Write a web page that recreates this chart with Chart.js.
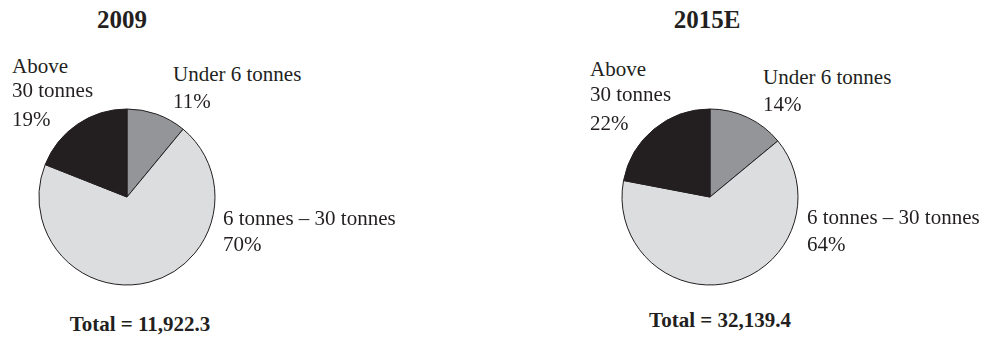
<!DOCTYPE html>
<html>
<head>
<meta charset="utf-8">
<script src="https://cdn.jsdelivr.net/npm/chart.js@4.4.1/dist/chart.umd.min.js"></script>
<style>
  body { margin: 0; background: #fff; }
  #wrap { position: relative; width: 985px; height: 340px; overflow: hidden; background: #fff; }
  .pie { position: absolute; width: 200px; height: 200px; }
  .txt { position: absolute; font-family: "Liberation Serif", "Times New Roman", serif; color: #231f20; white-space: nowrap; }
</style>
</head>
<body>
<div id="wrap">
  <div class="pie" style="left:27px; top:97px;"><canvas id="pie2009"></canvas></div>
  <div class="pie" style="left:610px; top:97px;"><canvas id="pie2015"></canvas></div>
</div>
<script>
const categories = ["Under 6 tonnes", "6 tonnes \u2013 30 tonnes", "Above 30 tonnes"];
const share2009 = [11, 70, 19];
const share2015 = [14, 64, 22];
const totals = ["Total = 11,922.3", "Total  = 32,139.4"];
const years = ["2009", "2015E"];

const sliceColors = ["#939598", "#dcdddf", "#231f20"];

function makePie(id, values) {
  new Chart(document.getElementById(id), {
    type: "pie",
    data: {
      labels: categories,
      datasets: [{
        data: values,
        backgroundColor: sliceColors,
        borderColor: "#231f20",
        borderWidth: 1
      }]
    },
    options: {
      responsive: false,
      animation: false,
      radius: 88,
      layout: { padding: 0 },
      plugins: {
        legend: { display: false },
        tooltip: { enabled: false }
      }
    }
  });
}

// canvas size set before chart init
document.querySelectorAll(".pie canvas").forEach(c => { c.width = 200; c.height = 200; });
makePie("pie2009", share2009);
makePie("pie2015", share2015);

// text placed by baseline
const wrap = document.getElementById("wrap");
function text(str, x, baseline, size, bold, center) {
  const d = document.createElement("div");
  d.className = "txt";
  d.textContent = str;
  d.style.fontSize = size + "px";
  d.style.lineHeight = size + "px";
  d.style.fontWeight = bold ? "bold" : "normal";
  d.style.top = (baseline - 0.8375 * size) + "px";
  d.style.left = x + "px";
  if (center) d.style.transform = "translateX(-50%)";
  wrap.appendChild(d);
}

const pct = v => v + "%";
const LBL = 21;

// 2009
text(years[0], 122, 28, 25, true, true);
text("Above", 12, 74, LBL);
text("30 tonnes", 12, 98, LBL);
text(pct(share2009[2]), 12, 127, LBL);
text(categories[0], 173, 82, LBL);
text(pct(share2009[0]), 173, 109, LBL);
text(categories[1], 223, 226, LBL);
text(pct(share2009[1]), 223, 252, LBL);
text(totals[0], 140, 332, 21, true, true);

// 2015E
text(years[1], 707, 28, 25, true, true);
text("Above", 590, 77, LBL);
text("30 tonnes", 590, 102, LBL);
text(pct(share2015[2]), 590, 131, LBL);
text(categories[0], 763, 85, LBL);
text(pct(share2015[0]), 763, 112, LBL);
text(categories[1], 807, 225, LBL);
text(pct(share2015[1]), 807, 252, LBL);
text(totals[1], 720, 328, 21, true, true);
</script>
</body>
</html>
